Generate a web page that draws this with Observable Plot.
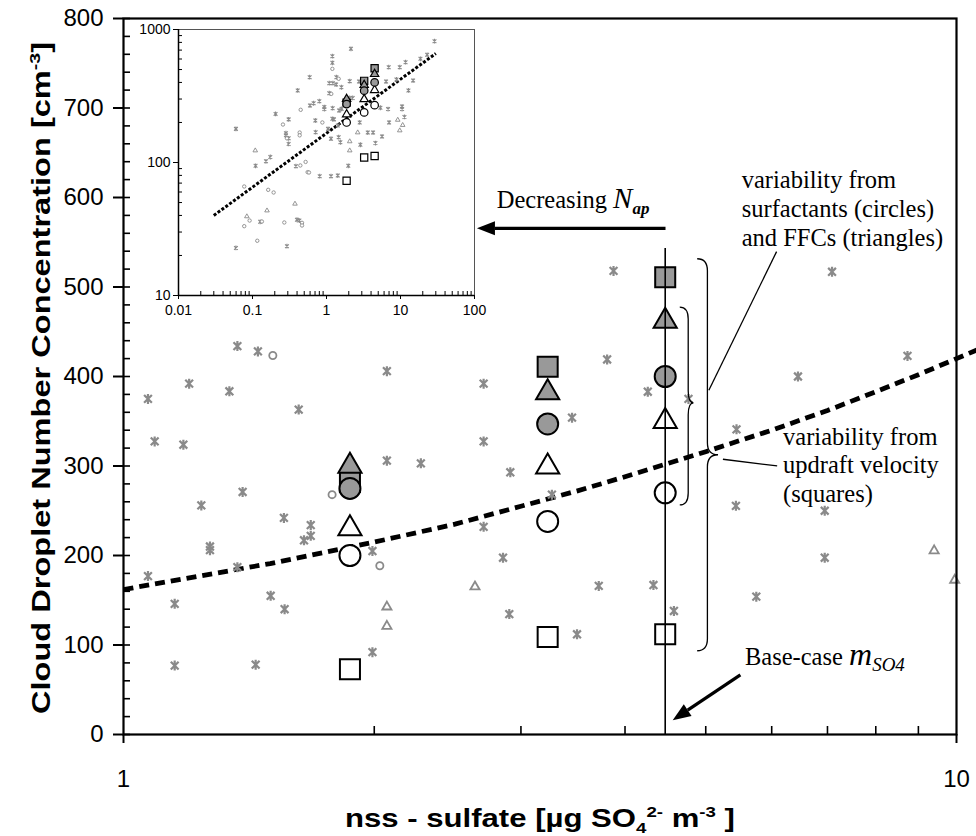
<!DOCTYPE html>
<html><head><meta charset="utf-8">
<script src="https://cdn.jsdelivr.net/npm/d3@7"></script>
<script src="https://cdn.jsdelivr.net/npm/@observablehq/plot@0.6"></script>
<style>
body{margin:0;background:#fff;}
#wrap{position:relative;width:976px;height:836px;overflow:hidden;}
#main{position:absolute;left:0;top:0;}
#inset{position:absolute;left:130px;top:18px;}
</style></head><body><div id="wrap"><div id="main"></div><div id="inset"></div></div>
<script>
// ---------------- data: main panel ----------------
const starX = [1.370,1.450,1.070,1.199,1.340,1.623,2.071,1.090,1.180,2.071,2.275,1.390,1.240,1.558,1.678,1.678,1.647,1.270,1.270,1.990,1.370,1.070,1.502,1.152,1.561,1.152,1.441,1.990,3.807,2.706,4.260,4.767,3.455,2.706,2.913,3.268,2.706,2.855,3.720,4.327,2.905,4.579,3.503,3.875,7.089,8.733,6.452,5.444,5.435,6.947,6.947,5.750];
const starY = [434,428,375,392,383.5,363,406,327.5,323.8,306,303,271,256,242,234,222,217,210,206,205,187,177,155,146,140,77,78,92,419,392,383,375,354,327.5,293,268,232,197.5,166,167,134.5,138,112,518,517,423,400,341,255.5,250,197.5,154];
const circX = [1.511,1.780,2.031];
const circY = [423.5,268,188.6];
const triX = [2.071,2.071,2.642,9.401,9.95];
const triY = [142.6,121,165,205.4,172.5];

// model cases at three sulfate levels
const groupX = [1.87, 3.23, 4.47];
const graySquare = [282, 411, 511];
const grayTriangle = [300, 382, 462];
const grayCircle = [275, 347, 400];
const whiteTriangle = [230, 299, 350];
const whiteCircle = [200, 238, 270];
const whiteSquare = [73, 109, 112];

// fitted trend
const trendX = [1, 1.5, 2, 2.5, 3, 3.5, 4, 5, 6, 7, 8, 9, 10, 10.6];
const trendY = [162, 191, 215, 235, 255, 272, 288, 316, 340, 362, 383, 402, 420, 430];

const baseCaseX = [4.47];
const baseCaseTop = 543;

const yMajor = [0,100,200,300,400,500,600,700,800];
const yMinor = d3.range(0, 801, 20);
const xMajor = [1, 10];
const xMinor = [2,3,4,5,6,7,8,9];

// ---------------- data: inset (log-log) ----------------
const insetStarX = [28.8,2.14,1.20,1.20,22.9,18.6,11.7,6.93,9.77,0.592,1.36,2.06,2.75,1.09,1.22,1.35,1.59,6.38,8.81,14.8,0.408,1.09,12.8,2.06,2.26,0.670,0.598,0.80,0.935,0.935,1.21,1.48,1.60,5.35,6.79,10.5,10.5,0.205,0.308,0.706,1.20,1.26,1.42,2.81,7.01,11.3,0.0597,0.283,0.283,0.308,0.308,0.713,1.05,3.61,4.26,5.63,1.15,1.46,1.54,2.87,4.58,0.174,0.152,0.110,0.386,1.97,0.809,1.15,1.42,0.127,0.399,0.430,0.0597,0.292];
const insetStarY = [817,716,630,562,645,602,568,521,521,438,438,409,406,395,395,386,368,406,421,413,348,332,348,306,306,279,268,289,261,252,256,246,253,258,252,264,252,232,211,207,213,211,190,200,200,220,179,166,160,152,138,169,179,168,168,157,151,155,142,136,140,110,102,94.4,93.8,94.4,78.9,78.9,79.8,35.8,37.1,36.6,22.8,23.5];
const insetCircX = [1.20,1.46,1.16,0.448,0.258,0.879,0.292,0.434,0.434,0.443,0.522,0.556,0.58,0.0773,0.163,0.193,0.0914,0.134,0.269,0.467,0.467,0.0773,0.116];
const insetCircY = [506,426,328,249,193,200,152,168,160,95,101,84.6,84.1,66,62.3,59.5,36.6,36.0,35.4,35.2,33.6,33.2,25.8];
const insetTriX = [9.18,10.7,9.77,2.64,2.06,0.109,2.06,0.375,0.157,0.0839];
const insetTriY = [209,191,174,168,144,123,123,48.9,43.5,39.3];
const insetTrendX = [0.03, 30];
const insetTrendY = [40, 660];
const insetYMajor = [10, 100, 1000];
const insetYMinor = [20,30,40,50,60,70,80,90,200,300,400,500,600,700,800,900];
const insetXMajor = [0.01, 0.1, 1, 10, 100];
const insetXMinor = [0.02,0.03,0.04,0.05,0.06,0.07,0.08,0.09,0.2,0.3,0.4,0.5,0.6,0.7,0.8,0.9,2,3,4,5,6,7,8,9,20,30,40,50,60,70,80,90];

// ---------------- helpers ----------------
const zip = (xs, ys) => xs.map((x, i) => ({x, y: ys[i]}));
const stars = zip(starX, starY), circs = zip(circX, circY), tris = zip(triX, triY);
const trend = zip(trendX, trendY);
const iStars = zip(insetStarX, insetStarY), iCircs = zip(insetCircX, insetCircY), iTris = zip(insetTriX, insetTriY);
const iTrend = zip(insetTrendX, insetTrendY);
const G = ys => zip(groupX, ys);

const starSym = {draw(ctx, size) {
  const r = Math.sqrt(size / Math.PI), a = r * 0.78;
  ctx.moveTo(0, -r); ctx.lineTo(0, r);
  ctx.moveTo(-a, -a); ctx.lineTo(a, a);
  ctx.moveTo(-a, a); ctx.lineTo(a, -a);
}};

const GRAY = "#8a8a8a", FILL = "#999999";
const sansFont = "'Liberation Sans', Arial, Helvetica, sans-serif";
const serifFont = "'Liberation Serif', 'Times New Roman', Times, serif";

function bigMarks(scale) {
  const s = scale, sw = 2 * Math.sqrt(s);
  return [
    Plot.dot(G(whiteSquare), {x: "x", y: "y", symbol: "square", r: 11.3 * s, fill: "white", stroke: "black", strokeWidth: sw}),
    Plot.dot(G(whiteCircle), {x: "x", y: "y", symbol: "circle", r: 10.5 * s, fill: "white", stroke: "black", strokeWidth: sw}),
    Plot.dot(G(whiteTriangle), {x: "x", y: "y", symbol: "triangle", r: 8.6 * s, fill: "white", stroke: "black", strokeWidth: sw}),
    Plot.dot(G(graySquare), {x: "x", y: "y", symbol: "square", r: 11.3 * s, fill: FILL, stroke: "black", strokeWidth: sw}),
    Plot.dot(G(grayTriangle), {x: "x", y: "y", symbol: "triangle", r: 8.6 * s, fill: FILL, stroke: "black", strokeWidth: sw}),
    Plot.dot(G(grayCircle), {x: "x", y: "y", symbol: "circle", r: 10.5 * s, fill: FILL, stroke: "black", strokeWidth: sw})
  ];
}

// ---------------- main chart ----------------
const main = Plot.plot({
  width: 976, height: 836,
  marginLeft: 123, marginRight: 20, marginTop: 18, marginBottom: 102,
  x: {type: "log", domain: [1, 10]},
  y: {domain: [0, 800]},
  style: {fontFamily: sansFont, fontSize: "24px", color: "black", background: "white", overflow: "visible"},
  marks: [
    Plot.line(trend, {x: "x", y: "y", stroke: "black", strokeWidth: 4.8, strokeDasharray: "10,6", strokeLinecap: "butt"}),
    Plot.dot(stars, {x: "x", y: "y", symbol: starSym, r: 5, stroke: GRAY, strokeWidth: 2.2, fill: "none"}),
    Plot.dot(circs, {x: "x", y: "y", symbol: "circle", r: 3.6, stroke: GRAY, strokeWidth: 1.8, fill: "white"}),
    Plot.dot(tris, {x: "x", y: "y", symbol: "triangle", r: 3.4, stroke: GRAY, strokeWidth: 1.8, fill: "white"}),
    ...bigMarks(1),
    Plot.ruleX(baseCaseX, {y1: 0, y2: baseCaseTop, stroke: "black", strokeWidth: 1.6}),
    Plot.axisY(yMajor, {tickSize: 10, tickPadding: 10, strokeWidth: 2, label: null, fontSize: 24, tickFormat: d => String(d)}),
    Plot.axisY(yMinor, {tickSize: 7, dx: 7, strokeWidth: 1.6, label: null, tickFormat: () => ""}),
    Plot.axisX(xMajor, {tickSize: 9, tickPadding: 26, strokeWidth: 2, label: null, fontSize: 24, tickFormat: d => String(d)}),
    Plot.axisX(xMinor, {tickSize: 8, dy: -8, strokeWidth: 1.6, label: null, tickFormat: () => ""}),
    Plot.frame({stroke: "black", strokeWidth: 2.2})
  ]
});
document.getElementById("main").appendChild(main);

// annotations placed in data coordinates through the plot's scales
const sx = main.scale("x"), sy = main.scale("y");
const X = sx.apply ? (v => sx.apply(v)) : d3.scaleLog(sx.domain, sx.range);
const Y = sy.apply ? (v => sy.apply(v)) : d3.scaleLinear(sy.domain, sy.range);
const svg = d3.select(main.tagName.toLowerCase() === "svg" ? main : main.querySelector("svg"));
const g = svg.append("g").attr("text-anchor", "start");

function richText(x, y, parts, family) {
  const t = g.append("text").attr("x", x).attr("y", y).attr("font-family", family)
    .attr("fill", "black").attr("text-anchor", "start");
  for (const p of parts) {
    const s = t.append("tspan").text(p.t).attr("font-size", p.size);
    if (p.italic) s.attr("font-style", "italic");
    if (p.bold) s.attr("font-weight", "bold");
    if (p.dy) s.attr("dy", p.dy);
  }
  return t;
}
function arrow(x1, y1, x2, y2, sw, hl, hw) {
  const ang = Math.atan2(y2 - y1, x2 - x1);
  const bx = x2 - hl * Math.cos(ang), by = y2 - hl * Math.sin(ang);
  g.append("line").attr("x1", x1).attr("y1", y1).attr("x2", bx).attr("y2", by).attr("stroke", "black").attr("stroke-width", sw);
  const px = -Math.sin(ang) * hw, py = Math.cos(ang) * hw;
  g.append("path").attr("d", `M${x2},${y2}L${bx + px},${by + py}L${bx - px},${by - py}Z`).attr("fill", "black");
}
function line(x1, y1, x2, y2) {
  g.append("line").attr("x1", x1).attr("y1", y1).attr("x2", x2).attr("y2", y2).attr("stroke", "black").attr("stroke-width", 1.3);
}
function brace(xEnd, xBar, xTip, yTop, yMid, yBot) {
  const r = 12;
  const d = `M${xEnd},${yTop} Q${xBar},${yTop} ${xBar},${yTop + r} L${xBar},${yMid - r} Q${xBar},${yMid} ${xTip},${yMid}` +
            ` Q${xBar},${yMid} ${xBar},${yMid + r} L${xBar},${yBot - r} Q${xBar},${yBot} ${xEnd},${yBot}`;
  g.append("path").attr("d", d).attr("fill", "none").attr("stroke", "black").attr("stroke-width", 1.3);
}

// braces
brace(X(4.66), X(4.77), X(4.84), Y(477), Y(370), Y(256));
brace(X(4.89), X(5.03), X(5.18), Y(531), Y(312), Y(93));

const TS = 24.5;
// "Decreasing N_ap" with arrow
richText(X(2.81), Y(588), [{t: "Decreasing ", size: TS}, {t: "N", size: 29, italic: true}, {t: "ap", size: 17, italic: true, bold: true, dy: 6}], serifFont);
arrow(X(4.48), Y(565), X(2.66), Y(565), 3.2, 18, 7);

// text 1
const L1 = [["variability from", 610], ["surfactants (circles)", 578], ["and FFCs (triangles)", 545]];
L1.forEach(([s, yv]) => richText(X(5.53), Y(yv), [{t: s, size: TS}], serifFont));
line(X(6.09), Y(539), X(5.05), Y(384));

// text 2
const L2 = [["variability from", 323], ["updraft velocity", 291.5], ["(squares)", 259]];
L2.forEach(([s, yv]) => richText(X(6.20), Y(yv), [{t: s, size: TS}], serifFont));
line(X(5.25), Y(307), X(6.10), Y(299.5));

// Base-case m_SO4
richText(X(5.58), Y(77), [{t: "Base-case ", size: TS}, {t: "m", size: 32, italic: true}, {t: "SO4", size: 19, italic: true, dy: 6}], serifFont);
arrow(X(5.51), Y(66), X(4.57), Y(15.5), 3.2, 18, 7);

// axis titles
const yl = g.append("text").attr("transform", "translate(50,378) rotate(-90)").attr("text-anchor", "middle")
  .attr("font-family", sansFont).attr("font-weight", "bold").attr("font-size", 25)
  .attr("textLength", 672).attr("lengthAdjust", "spacingAndGlyphs");
yl.append("tspan").text("Cloud Droplet Number Concentration [cm");
yl.append("tspan").attr("dy", -10).attr("font-size", 15).text("-3");
yl.append("tspan").attr("dy", 10).text("]");

const xl = g.append("text").attr("x", 540).attr("y", 827).attr("text-anchor", "middle")
  .attr("font-family", sansFont).attr("font-weight", "bold").attr("font-size", 25)
  .attr("textLength", 390).attr("lengthAdjust", "spacingAndGlyphs");
xl.append("tspan").text("nss - sulfate [\u00b5g SO");
xl.append("tspan").attr("dy", 6).attr("font-size", 15).text("4");
xl.append("tspan").attr("dy", -16).attr("font-size", 15).text("2-");
xl.append("tspan").attr("dy", 10).text(" m");
xl.append("tspan").attr("dy", -10).attr("font-size", 15).text("-3");
xl.append("tspan").attr("dy", 10).text(" ]");

// ---------------- inset ----------------
const inset = Plot.plot({
  width: 350, height: 310,
  marginLeft: 48, marginTop: 11, marginRight: 6, marginBottom: 33,
  x: {type: "log", domain: [0.01, 100]},
  y: {type: "log", domain: [10, 1000]},
  style: {fontFamily: sansFont, fontSize: "14px", color: "black", background: "transparent", overflow: "visible"},
  marks: [
    Plot.frame({fill: "white", stroke: "#555", strokeWidth: 1}),
    Plot.line(iTrend, {x: "x", y: "y", stroke: "black", strokeWidth: 3, strokeDasharray: "3,1.8", strokeLinecap: "butt"}),
    Plot.dot(iStars, {x: "x", y: "y", symbol: starSym, r: 2.4, stroke: GRAY, strokeWidth: 1.1, fill: "none"}),
    Plot.dot(iCircs, {x: "x", y: "y", symbol: "circle", r: 1.7, stroke: GRAY, strokeWidth: 0.9, fill: "white"}),
    Plot.dot(iTris, {x: "x", y: "y", symbol: "triangle", r: 1.7, stroke: GRAY, strokeWidth: 0.9, fill: "white"}),
    ...bigMarks(0.36),
    Plot.ruleX([0.01], {stroke: "black", strokeWidth: 1.5}),
    Plot.ruleY([10], {stroke: "black", strokeWidth: 1.5}),
    Plot.axisY(insetYMajor, {tickSize: 5, tickPadding: 3, label: null, fontSize: 14, tickFormat: d => String(d)}),
    Plot.axisY(insetYMinor, {tickSize: 4, dx: 4, label: null, tickFormat: () => ""}),
    Plot.axisX(insetXMajor, {tickSize: 4, tickPadding: 6, label: null, fontSize: 14, tickFormat: d => String(d)}),
    Plot.axisX(insetXMinor, {tickSize: 4, dy: -4, label: null, tickFormat: () => ""})
  ]
});
document.getElementById("inset").appendChild(inset);
</script>
</body></html>
